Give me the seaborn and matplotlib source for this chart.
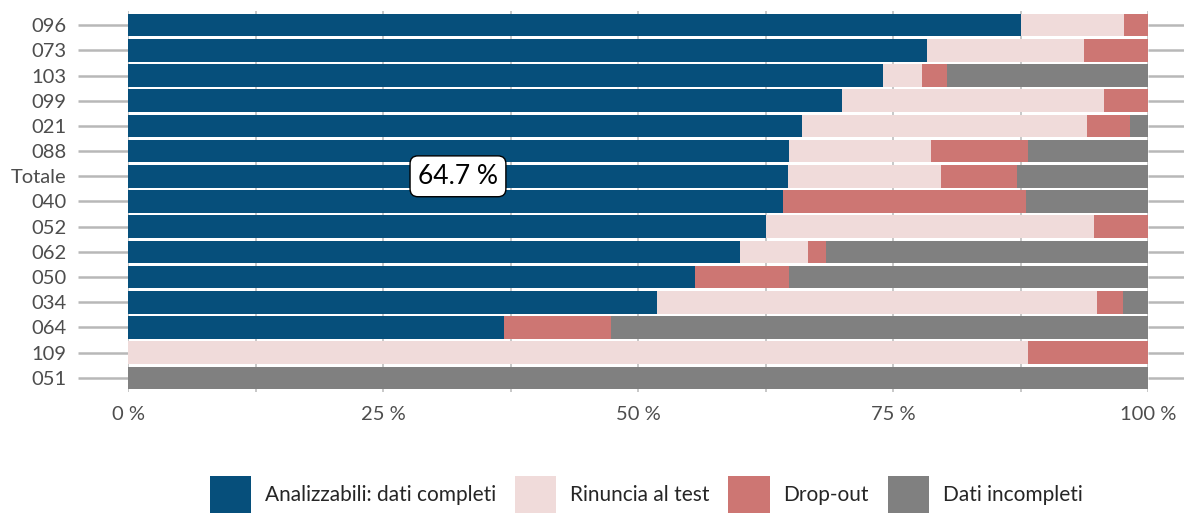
import numpy as np
import pandas as pd
import matplotlib
matplotlib.use("Agg")
import matplotlib.pyplot as plt
from matplotlib.patches import Patch
from matplotlib.ticker import MultipleLocator, FuncFormatter
import seaborn as sns

# ---- data ----
categories = ["096", "073", "103", "099", "021", "088", "Totale", "040",
              "052", "062", "050", "034", "064", "109", "051"]
analizzabili = [87.5, 78.3, 74.0, 70.0, 66.1, 64.8, 64.7, 64.2, 62.5, 60.0, 55.6, 51.9, 36.9, 0.0, 0.0]
rinuncia     = [10.1, 15.4, 3.8, 25.7, 27.9, 13.9, 15.0, 0.0, 32.2, 6.7, 0.0, 43.1, 0.0, 88.2, 0.0]
dropout      = [2.4, 6.3, 2.5, 4.3, 4.2, 9.5, 7.5, 23.8, 5.3, 1.7, 9.2, 2.5, 10.5, 11.8, 0.0]
incompleti   = [0.0, 0.0, 19.7, 0.0, 1.8, 11.8, 12.8, 12.0, 0.0, 31.6, 35.2, 2.5, 52.6, 0.0, 100.0]
series_names = ["Analizzabili: dati completi", "Rinuncia al test", "Drop-out", "Dati incompleti"]
highlight_category = "Totale"

colors = ["#064F7B", "#F0DBDA", "#CD7673", "#808080"]

sns.set_style("white")
plt.rcParams["font.family"] = ["Lato", "DejaVu Sans"]

df = pd.DataFrame({
    "cat": categories,
    "s1": analizzabili,
    "s2": rinuncia,
    "s3": dropout,
    "s4": incompleti,
})
df["c1"] = df["s1"]
df["c2"] = df["c1"] + df["s2"]
df["c3"] = df["c2"] + df["s3"]
df["c4"] = df["c3"] + df["s4"]

fig = plt.figure(figsize=(11.84, 5.13), dpi=100)
ax = fig.add_axes([128 / 1184, 1 - 392 / 513, (1148 - 128) / 1184, (392 - 11) / 513])

# draw cumulative bars from the largest to the smallest so they stack
for col, color in zip(["c4", "c3", "c2", "c1"], colors[::-1]):
    sns.barplot(data=df, y="cat", x=col, orient="h", color=color, saturation=1,
                width=0.9, linewidth=0, ax=ax, order=categories, zorder=3)

ax.set_xlim(0, 100)
ax.set_ylim(len(categories) - 1 + 0.56, -0.56)
ax.set_xlabel("")
ax.set_ylabel("")

ax.xaxis.set_major_locator(MultipleLocator(25))
ax.xaxis.set_minor_locator(MultipleLocator(12.5))
ax.xaxis.set_major_formatter(FuncFormatter(lambda v, p: f"{v:.0f} %"))
ax.grid(True, axis="x", which="both", color="#c4c4c4", linewidth=1.3, zorder=0)
ax.set_axisbelow(True)
for s in ax.spines.values():
    s.set_visible(False)

ax.tick_params(axis="x", which="both", length=0, pad=10, labelsize=14.5, labelcolor="#4d4d4d")
ax.tick_params(axis="y", which="both", length=36, width=1.8, color="#b8b8b8",
               pad=8.5, labelsize=14.5, labelcolor="#4d4d4d", left=True, right=True,
               direction="out")
for t in ax.get_yticklabels():
    t.set_va("center_baseline")

# label on the "Totale" bar
idx = categories.index(highlight_category)
val = analizzabili[idx]
ax.text(val / 2, idx, f"{val:.1f} %", ha="center", va="center", fontsize=19,
        color="black", zorder=5,
        bbox=dict(boxstyle="round,pad=0.3,rounding_size=0.3", facecolor="white",
                  edgecolor="black", linewidth=1))

handles = [Patch(facecolor=c, edgecolor="none", label=n) for c, n in zip(colors, series_names)]
fig.legend(handles=handles, loc="lower center", bbox_to_anchor=(646 / 1184, 0.0),
           ncol=4, frameon=False, fontsize=15, handlelength=2.0, handleheight=2.3,
           handletextpad=0.65, columnspacing=0.9, borderaxespad=0, borderpad=0.02)

fig.savefig("out.png", dpi=100)
